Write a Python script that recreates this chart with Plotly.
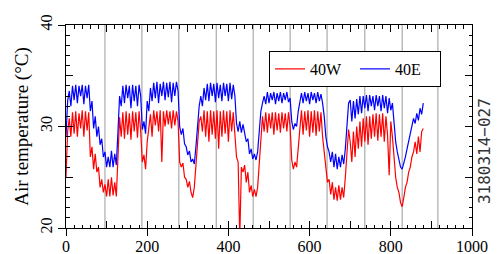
import plotly.graph_objects as go

# 40E (blue), sampled every 4 x-units from 0 to 880
t_40e = [
    29.0, 32.5, 33.5, 32.0, 34.0, 32.6, 34.1, 32.3, 34.0, 33.0, 34.1, 32.2,
    34.0, 32.8, 34.1, 31.5, 32.5, 29.8, 31.0, 29.0, 30.0, 28.2, 28.8, 27.0,
    27.5, 26.0, 27.0, 26.0, 27.6, 26.0, 27.3, 26.2, 29.5, 33.0, 32.0, 34.0,
    32.3, 34.1, 32.8, 34.0, 31.8, 34.1, 32.5, 34.0, 32.0, 34.1, 33.0, 29.7,
    30.5, 29.3, 32.5, 31.5, 33.8, 32.5, 34.3, 32.8, 34.4, 32.3, 34.2, 33.0,
    34.4, 32.6, 34.3, 32.9, 34.4, 32.4, 34.3, 33.0, 34.4, 33.5, 30.0, 29.2,
    29.8, 28.3, 28.0, 27.2, 27.6, 26.5, 26.8, 26.3, 28.0, 30.5, 32.0, 33.0,
    32.0, 33.8, 32.6, 34.2, 32.5, 34.3, 33.0, 34.2, 32.4, 34.3, 32.8, 34.1,
    32.5, 34.3, 33.0, 34.2, 32.5, 34.3, 32.7, 34.1, 33.0, 30.3, 29.5, 30.5,
    29.4, 30.2, 29.3, 28.5, 28.8, 27.3, 27.8, 26.8, 27.3, 26.7, 27.5, 29.5,
    31.5, 32.3, 33.0, 32.2, 33.4, 32.3, 33.3, 32.6, 33.4, 32.2, 33.3, 32.5,
    33.4, 32.3, 33.3, 32.6, 33.4, 32.4, 32.8, 30.5, 29.7, 30.3, 30.0, 31.5,
    32.5, 33.3, 32.3, 33.4, 32.5, 33.3, 32.2, 33.4, 32.6, 33.3, 32.3, 33.4,
    32.5, 33.2, 32.3, 31.0, 29.0, 28.0, 27.5, 26.5, 27.5, 26.0, 27.3, 25.8,
    27.0, 26.0, 27.2, 26.3, 27.8, 30.5, 32.3, 32.6, 30.5, 32.5, 30.8, 32.7,
    31.2, 33.0, 31.3, 33.0, 31.8, 33.1, 31.5, 33.1, 32.0, 33.0, 31.6, 33.1,
    32.0, 33.0, 31.5, 33.1, 31.8, 33.0, 31.3, 32.8, 31.6, 32.3, 30.0, 28.5,
    27.5, 26.8, 26.0, 25.8, 26.3, 27.0, 27.8, 28.5, 29.3, 30.2, 30.8, 30.3,
    31.3, 30.6, 31.8, 31.2, 32.3,
]

# 40W (red), sampled every 4 x-units from 0 to 880
t_40w = [
    25.0, 29.5, 30.8, 29.0, 31.4, 29.3, 31.5, 29.0, 31.3, 29.8, 31.6, 29.0,
    31.5, 29.6, 31.4, 27.0, 28.0, 25.8, 27.3, 25.5, 26.0, 24.0, 24.8, 23.5,
    24.3, 23.1, 24.8, 23.1, 25.0, 23.2, 24.5, 23.1, 27.0, 30.9, 29.0, 31.4,
    28.8, 31.5, 29.2, 31.3, 28.7, 31.5, 29.5, 31.4, 28.9, 31.5, 29.5, 26.5,
    27.2, 25.8, 28.5, 29.8, 31.2, 29.0, 31.6, 30.1, 31.5, 29.5, 31.6, 26.5,
    31.5, 30.0, 31.6, 30.2, 31.5, 29.8, 31.6, 30.1, 31.5, 30.5, 26.5, 26.0,
    26.4, 25.0, 24.8, 24.0, 24.6, 23.5, 23.0, 24.0, 26.0, 28.5, 30.5, 31.0,
    29.5, 31.6, 29.0, 31.5, 28.5, 31.6, 29.2, 31.5, 28.8, 31.6, 27.8, 31.5,
    29.0, 31.6, 29.3, 31.5, 28.5, 31.6, 29.5, 31.4, 29.5, 27.0, 26.5, 19.0,
    26.0, 25.5, 26.2, 24.5, 25.5, 23.5, 24.2, 23.1, 23.8, 23.1, 24.0, 26.5,
    29.0, 31.0, 29.5, 31.4, 29.4, 31.3, 29.8, 31.4, 29.2, 31.4, 29.6, 31.3,
    29.4, 31.4, 29.8, 31.3, 29.5, 31.4, 30.0, 26.7, 25.8, 26.5, 26.0, 28.0,
    30.0, 31.6, 29.2, 31.5, 29.6, 31.6, 29.0, 31.5, 29.4, 31.6, 29.1, 31.5,
    29.5, 31.4, 29.0, 27.5, 25.5, 24.5, 24.8, 23.3, 24.5, 22.8, 24.0, 22.7,
    24.2, 22.8, 24.0, 23.0, 25.0, 27.5, 29.7, 28.5, 26.5, 29.5, 27.0, 30.0,
    27.8, 30.5, 28.0, 30.8, 28.5, 31.0, 28.2, 31.0, 28.8, 31.2, 29.0, 31.3,
    28.6, 31.2, 29.0, 31.3, 28.5, 31.0, 29.2, 25.2, 30.5, 29.0, 26.5, 25.0,
    24.0, 23.5, 22.5, 22.1, 23.0, 24.0, 24.5, 25.5, 26.0, 27.0, 27.5, 28.5,
    27.3, 29.0, 27.5, 29.5, 29.8,
]

x = list(range(0, 881, 4))
assert len(x) == len(t_40e) == len(t_40w), (len(x), len(t_40e), len(t_40w))

# vertical reference lines
vlines = [96, 187, 278, 370, 461, 552, 643, 736, 828, 916]

x_label_vals = [0, 200, 400, 600, 800, 1000]
x_tick_vals = [0, 100, 200, 300, 400, 500, 600, 700, 800, 900, 1000]
x_tick_text = ["0", "", "200", "", "400", "", "600", "", "800", "", "1000"]
y_label_vals = [20, 30, 40]
y_tick_vals = [20, 25, 30, 35, 40]
y_tick_text = ["20", "", "30", "", "40"]

serif = "Liberation Serif"

fig = go.Figure()
fig.add_trace(go.Scatter(x=x, y=t_40w, mode="lines", name="40W",
                         line=dict(color="#ff0000", width=1.2)))
fig.add_trace(go.Scatter(x=x, y=t_40e, mode="lines", name="40E",
                         line=dict(color="#0000ff", width=1.2)))
# carrier for the overlay axes (outside half of the labelled ticks)
fig.add_trace(go.Scatter(x=[500], y=[30], xaxis="x2", yaxis="y2", mode="markers",
                         marker=dict(opacity=0, size=1), showlegend=False,
                         hoverinfo="skip"))

for v in vlines:
    fig.add_shape(type="line", x0=v, x1=v, y0=0, y1=1, xref="x", yref="paper",
                  line=dict(color="#999999", width=1), layer="below")

fig.update_layout(
    width=498, height=254,
    margin=dict(l=66, r=26, t=25, b=26, autoexpand=False),
    paper_bgcolor="white", plot_bgcolor="white",
    font=dict(family=serif, size=16, color="black"),
    showlegend=True,
    legend=dict(orientation="h", x=0.5, y=0.872, xanchor="left", yanchor="top",
                bgcolor="white", bordercolor="black", borderwidth=1,
                entrywidth=40, entrywidthmode="pixels",
                font=dict(family=serif, size=16), traceorder="normal"),
    xaxis=dict(range=[0, 1000], tickvals=x_tick_vals, ticktext=x_tick_text,
               ticks="inside", ticklen=7, tickcolor="black", mirror="ticks",
               showline=True, linecolor="black", linewidth=1,
               showgrid=False, zeroline=False, automargin=False,
               ticklabelstandoff=4,
               minor=dict(ticks="inside", dtick=20, ticklen=3.5, tickcolor="black",
                          showgrid=False),
               tickfont=dict(family=serif, size=16)),
    yaxis=dict(range=[20, 40], tickvals=y_tick_vals, ticktext=y_tick_text,
               ticks="inside", ticklen=7, tickcolor="black", mirror="ticks",
               tickangle=-90, ticklabelstandoff=7,
               showline=True, linecolor="black", linewidth=1,
               showgrid=False, zeroline=False, automargin=False,
               minor=dict(ticks="inside", dtick=1, ticklen=3.5, tickcolor="black",
                          showgrid=False),
               title=dict(text="Air temperature (°C)", font=dict(family=serif, size=19),
                          standoff=3),
               tickfont=dict(family=serif, size=16)),
    xaxis2=dict(range=[0, 1000], overlaying="x", side="bottom", anchor="y2",
                tickvals=x_label_vals, ticks="outside", ticklen=7,
                tickcolor="black", showticklabels=False,
                showgrid=False, zeroline=False, showline=False, automargin=False),
    yaxis2=dict(range=[20, 40], overlaying="y", side="left", anchor="x2",
                tickvals=y_label_vals, ticks="outside", ticklen=7,
                tickcolor="black", showticklabels=False,
                showgrid=False, zeroline=False, showline=False, automargin=False),
)

fig.add_annotation(text="3180314\u2212027", xref="paper", yref="paper",
                   x=1.0296, y=0.379, xanchor="center", yanchor="middle",
                   textangle=-90, showarrow=False,
                   font=dict(family="DejaVu Sans Mono", size=16, color="#333333"))

fig.write_html("out.html", config={"displayModeBar": False},
               post_script="document.body.style.margin='0';document.body.style.overflow='hidden';")
